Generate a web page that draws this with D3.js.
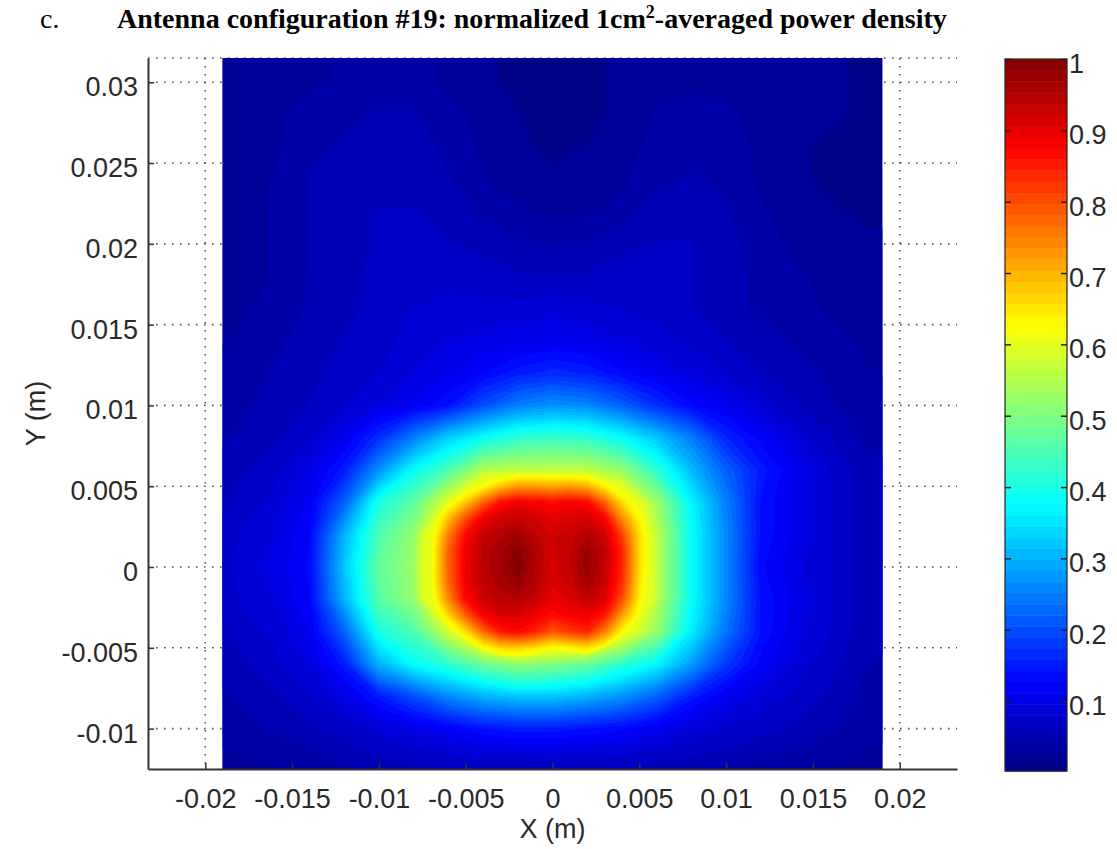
<!DOCTYPE html>
<html>
<head>
<meta charset="utf-8">
<script src="https://cdn.jsdelivr.net/npm/d3@7"></script>
<style>
  body { margin: 0; background: #fff; }
  .tick text, .lbl { font-family: "Liberation Sans", Arial, sans-serif; fill: #2a2a2a; }
</style>
</head>
<body>
<div id="chart"></div>
<script>
// grid positions of the sampled field (m)
const xValues = [-0.020, -0.018, -0.016, -0.014, -0.012, -0.010, -0.008, -0.006, -0.004, -0.002, 0,
                 0.002, 0.004, 0.006, 0.008, 0.010, 0.012, 0.014, 0.016, 0.018, 0.020];
const yValues = [0.032, 0.030, 0.028, 0.026, 0.024, 0.022, 0.020, 0.018, 0.016, 0.014, 0.012, 0.010,
                 0.008, 0.006, 0.004, 0.002, 0, -0.002, -0.004, -0.006, -0.008, -0.010, -0.012, -0.014];

// normalized power density, one row per yValue (top to bottom), one column per xValue
const density = [
  [0.02,0.02,0.025,0.03,0.035,0.04,0.04,0.03,0.02,0.015,0.012,0.015,0.02,0.025,0.03,0.03,0.025,0.02,0.02,0.015,0.015],
  [0.02,0.02,0.025,0.03,0.035,0.04,0.04,0.03,0.02,0.015,0.012,0.015,0.02,0.025,0.03,0.03,0.025,0.02,0.02,0.015,0.015],
  [0.02,0.02,0.03,0.04,0.045,0.05,0.05,0.04,0.025,0.018,0.015,0.015,0.02,0.035,0.04,0.035,0.03,0.02,0.02,0.015,0.015],
  [0.02,0.02,0.03,0.045,0.05,0.055,0.055,0.045,0.03,0.02,0.015,0.018,0.025,0.04,0.045,0.04,0.03,0.02,0.015,0.015,0.015],
  [0.02,0.02,0.035,0.05,0.055,0.06,0.06,0.05,0.035,0.025,0.02,0.022,0.03,0.045,0.05,0.045,0.03,0.02,0.015,0.015,0.015],
  [0.02,0.025,0.035,0.05,0.06,0.065,0.065,0.06,0.045,0.035,0.03,0.03,0.04,0.055,0.06,0.05,0.035,0.025,0.02,0.015,0.015],
  [0.02,0.025,0.035,0.05,0.06,0.065,0.07,0.065,0.06,0.05,0.045,0.05,0.06,0.065,0.065,0.055,0.04,0.03,0.025,0.02,0.02],
  [0.02,0.025,0.035,0.05,0.06,0.07,0.075,0.075,0.07,0.065,0.065,0.065,0.07,0.07,0.065,0.055,0.045,0.035,0.03,0.02,0.02],
  [0.025,0.03,0.04,0.05,0.06,0.07,0.08,0.085,0.085,0.085,0.09,0.085,0.08,0.075,0.065,0.055,0.045,0.04,0.03,0.025,0.02],
  [0.03,0.035,0.045,0.055,0.065,0.075,0.085,0.095,0.1,0.105,0.11,0.105,0.095,0.085,0.075,0.065,0.055,0.045,0.04,0.03,0.025],
  [0.035,0.04,0.05,0.06,0.07,0.08,0.095,0.11,0.125,0.15,0.165,0.155,0.13,0.11,0.095,0.08,0.065,0.055,0.045,0.035,0.03],
  [0.04,0.045,0.055,0.065,0.08,0.095,0.115,0.14,0.2,0.25,0.27,0.26,0.22,0.17,0.13,0.11,0.085,0.065,0.05,0.04,0.035],
  [0.045,0.05,0.06,0.08,0.11,0.17,0.25,0.33,0.38,0.42,0.43,0.42,0.38,0.32,0.25,0.16,0.12,0.09,0.065,0.045,0.04],
  [0.05,0.06,0.075,0.1,0.15,0.27,0.38,0.45,0.55,0.56,0.56,0.56,0.52,0.42,0.31,0.22,0.15,0.11,0.08,0.055,0.05],
  [0.055,0.07,0.085,0.115,0.22,0.4,0.47,0.6,0.78,0.86,0.84,0.86,0.68,0.53,0.37,0.25,0.14,0.105,0.08,0.055,0.05],
  [0.06,0.08,0.095,0.125,0.3,0.45,0.52,0.76,0.9,0.95,0.91,0.93,0.82,0.56,0.38,0.26,0.14,0.105,0.08,0.055,0.05],
  [0.065,0.085,0.1,0.13,0.32,0.47,0.53,0.78,0.92,0.98,0.92,0.95,0.84,0.56,0.38,0.26,0.13,0.1,0.08,0.055,0.05],
  [0.06,0.08,0.095,0.125,0.3,0.46,0.52,0.76,0.9,0.95,0.9,0.92,0.81,0.56,0.38,0.26,0.14,0.105,0.08,0.055,0.05],
  [0.055,0.07,0.085,0.11,0.22,0.4,0.45,0.58,0.74,0.8,0.76,0.76,0.64,0.52,0.36,0.24,0.14,0.1,0.08,0.055,0.05],
  [0.05,0.06,0.075,0.095,0.15,0.3,0.38,0.42,0.48,0.52,0.5,0.48,0.42,0.37,0.28,0.18,0.12,0.09,0.07,0.05,0.045],
  [0.045,0.05,0.06,0.075,0.1,0.15,0.2,0.26,0.3,0.32,0.32,0.3,0.27,0.22,0.15,0.11,0.09,0.075,0.06,0.045,0.04],
  [0.04,0.045,0.05,0.06,0.07,0.085,0.1,0.12,0.14,0.15,0.15,0.14,0.13,0.11,0.09,0.08,0.07,0.06,0.05,0.04,0.035],
  [0.025,0.03,0.035,0.04,0.05,0.06,0.065,0.07,0.075,0.075,0.075,0.075,0.07,0.065,0.06,0.05,0.045,0.04,0.035,0.03,0.025],
  [0.015,0.02,0.025,0.03,0.035,0.04,0.045,0.05,0.05,0.05,0.05,0.05,0.05,0.045,0.04,0.035,0.03,0.025,0.02,0.02,0.015]
];

// finer sampling of the hot spot (1 mm steps)
const coreX = [-0.008, -0.007, -0.006, -0.005, -0.004, -0.003, -0.002, -0.001, 0,
               0.001, 0.002, 0.003, 0.004, 0.005, 0.006, 0.007];
const coreY = [0.006, 0.005, 0.004, 0.003, 0.002, 0.001, 0, -0.001, -0.002, -0.003, -0.004, -0.005, -0.006];
const coreDensity = [
  [0.35,0.41,0.46,0.50,0.53,0.55,0.56,0.56,0.56,0.56,0.55,0.53,0.50,0.46,0.42,0.37],
  [0.41,0.47,0.53,0.57,0.62,0.68,0.72,0.72,0.71,0.72,0.70,0.64,0.58,0.53,0.47,0.41],
  [0.45,0.52,0.60,0.68,0.78,0.86,0.89,0.88,0.87,0.88,0.87,0.78,0.66,0.59,0.51,0.44],
  [0.49,0.57,0.69,0.80,0.89,0.92,0.93,0.92,0.90,0.91,0.92,0.88,0.74,0.63,0.53,0.45],
  [0.51,0.59,0.75,0.87,0.93,0.95,0.97,0.94,0.92,0.93,0.95,0.92,0.81,0.66,0.55,0.46],
  [0.52,0.60,0.78,0.89,0.94,0.965,0.99,0.955,0.92,0.935,0.975,0.935,0.84,0.66,0.55,0.47],
  [0.52,0.60,0.78,0.89,0.945,0.97,1.00,0.95,0.915,0.935,0.98,0.935,0.84,0.66,0.55,0.47],
  [0.52,0.60,0.77,0.89,0.935,0.96,0.98,0.945,0.91,0.925,0.965,0.925,0.83,0.65,0.54,0.46],
  [0.51,0.59,0.74,0.87,0.92,0.945,0.95,0.93,0.895,0.91,0.93,0.91,0.80,0.64,0.54,0.45],
  [0.49,0.56,0.66,0.78,0.88,0.91,0.91,0.89,0.865,0.88,0.89,0.85,0.72,0.61,0.52,0.44],
  [0.46,0.52,0.58,0.66,0.77,0.85,0.87,0.84,0.79,0.82,0.84,0.75,0.63,0.56,0.49,0.42],
  [0.43,0.48,0.53,0.57,0.62,0.66,0.67,0.65,0.62,0.63,0.65,0.61,0.55,0.50,0.45,0.39],
  [0.40,0.44,0.47,0.50,0.53,0.55,0.56,0.55,0.53,0.54,0.55,0.53,0.50,0.46,0.42,0.37]
];

const xTicks = [-0.02, -0.015, -0.01, -0.005, 0, 0.005, 0.01, 0.015, 0.02];
const yTicks = [-0.01, -0.005, 0, 0.005, 0.01, 0.015, 0.02, 0.025, 0.03];
const cbTicks = [0.1, 0.2, 0.3, 0.4, 0.5, 0.6, 0.7, 0.8, 0.9, 1];

const xDomain = [-0.0233, 0.0233];
const yDomain = [-0.0125, 0.0315];
const imageX = [-0.019, 0.019];
const cRange = [0.002, 1];
const nColors = 64;
const coreFrom = 0.6;   // levels at and above this come from the fine grid

var width = 1117, height = 849;
var plot = {left: 148, right: 957, top: 58, bottom: 769};
var cbar = {left: 1005, right: 1067, top: 59, bottom: 771};
var fontSize = 27;

var svg = d3.select("#chart")
  .append("svg")
    .attr("width", width)
    .attr("height", height);

var x = d3.scaleLinear().domain(xDomain).range([plot.left, plot.right]);
var y = d3.scaleLinear().domain(yDomain).range([plot.bottom, plot.top]);

// MATLAB jet colormap
var jet = d3.scaleLinear()
  .domain([0, 0.125, 0.375, 0.625, 0.875, 1])
  .range(["#000080", "#0000ff", "#00ffff", "#ffff00", "#ff0000", "#800000"])
  .clamp(true);
var step = (cRange[1] - cRange[0]) / nColors;
var thresholds = d3.range(nColors).map(i => cRange[0] + i * step);
function bandColor(v) {
  var i = Math.min(nColors - 1, Math.max(0, Math.round((v - cRange[0]) / step)));
  return jet((i + 0.5) / nColors);
}

// dotted grid (only visible outside the image)
var grid = svg.append("g")
  .attr("stroke", "#555")
  .attr("stroke-width", 1.6)
  .attr("stroke-dasharray", "1.6,6.4");
grid.selectAll(".gx").data(xTicks).join("line")
  .attr("x1", d => x(d)).attr("x2", d => x(d))
  .attr("y1", plot.top).attr("y2", plot.bottom);
grid.selectAll(".gy").data(yTicks.concat([yDomain[1]])).join("line")
  .attr("x1", plot.left).attr("x2", plot.right)
  .attr("y1", d => y(d)).attr("y2", d => y(d));

// heat map from filled contour bands
svg.append("clipPath").attr("id", "imgclip")
  .append("rect")
    .attr("x", x(imageX[0])).attr("y", plot.top)
    .attr("width", x(imageX[1]) - x(imageX[0]))
    .attr("height", plot.bottom - plot.top);

function gridPath(xs, ys) {
  var dx = xs[1] - xs[0], dy = ys[1] - ys[0];
  return d3.geoPath(d3.geoTransform({
    point: function(px, py) {
      this.stream.point(x(xs[0] + (px - 0.5) * dx), y(ys[0] + (py - 0.5) * dy));
    }
  }));
}

var img = svg.append("g").attr("clip-path", "url(#imgclip)");
img.append("rect")
  .attr("x", x(imageX[0])).attr("y", plot.top)
  .attr("width", x(imageX[1]) - x(imageX[0]))
  .attr("height", plot.bottom - plot.top)
  .attr("fill", bandColor(cRange[0]));

var coarseBands = d3.contours()
  .size([xValues.length, yValues.length])
  .thresholds(thresholds.filter(t => t < coreFrom))(density.flat());
var coreBands = d3.contours()
  .size([coreX.length, coreY.length])
  .thresholds(thresholds.filter(t => t >= coreFrom))(coreDensity.flat());

var coarsePath = gridPath(xValues, yValues);
var corePath = gridPath(coreX, coreY);

img.append("g").selectAll("path").data(coarseBands).join("path")
  .attr("d", coarsePath)
  .attr("fill", d => bandColor(d.value))
  .attr("stroke", d => bandColor(d.value))
  .attr("stroke-width", 0.6);
img.append("g").selectAll("path").data(coreBands).join("path")
  .attr("d", corePath)
  .attr("fill", d => bandColor(d.value))
  .attr("stroke", d => bandColor(d.value))
  .attr("stroke-width", 0.6);

// axes
var xAxis = svg.append("g")
  .attr("transform", "translate(0," + plot.bottom + ")")
  .call(d3.axisBottom(x).tickValues(xTicks).tickSize(-6).tickSizeOuter(0).tickPadding(20).tickFormat(d => String(d)));
var yAxis = svg.append("g")
  .attr("transform", "translate(" + plot.left + ",0)")
  .call(d3.axisLeft(y).tickValues(yTicks).tickSize(-6).tickSizeOuter(0).tickPadding(10).tickFormat(d => String(d)));
[xAxis, yAxis].forEach(g => {
  g.select(".domain").attr("stroke", "#333").attr("stroke-width", 2);
  g.selectAll(".tick line").attr("stroke", "#333").attr("stroke-width", 1.5);
  g.selectAll(".tick text").attr("font-size", fontSize);
});
yAxis.selectAll(".tick text").attr("dy", "0.5em");

svg.append("text").attr("class", "lbl")
  .attr("x", (plot.left + plot.right) / 2)
  .attr("y", 838)
  .attr("text-anchor", "middle")
  .attr("font-size", fontSize)
  .text("X (m)");
svg.append("text").attr("class", "lbl")
  .attr("transform", "translate(45," + ((plot.top + plot.bottom) / 2) + ") rotate(-90)")
  .attr("text-anchor", "middle")
  .attr("font-size", fontSize)
  .text("Y (m)");

// colorbar
var cb = d3.scaleLinear().domain(cRange).range([cbar.bottom, cbar.top]);
svg.append("g").selectAll("rect").data(thresholds).join("rect")
  .attr("x", cbar.left)
  .attr("width", cbar.right - cbar.left)
  .attr("y", d => cb(d + step))
  .attr("height", d => cb(d) - cb(d + step) + 0.5)
  .attr("fill", d => bandColor(d));
svg.append("rect")
  .attr("x", cbar.left).attr("y", cbar.top)
  .attr("width", cbar.right - cbar.left).attr("height", cbar.bottom - cbar.top)
  .attr("fill", "none").attr("stroke", "#222").attr("stroke-width", 1.2);
var cbRight = svg.append("g")
  .attr("transform", "translate(" + cbar.right + ",0)")
  .call(d3.axisRight(cb).tickValues(cbTicks).tickSize(-6).tickSizeOuter(0).tickPadding(2).tickFormat(d => String(d)));
var cbLeft = svg.append("g")
  .attr("transform", "translate(" + cbar.left + ",0)")
  .call(d3.axisLeft(cb).tickValues(cbTicks).tickSize(-6).tickSizeOuter(0).tickFormat(""));
[cbRight, cbLeft].forEach(g => {
  g.select(".domain").remove();
  g.selectAll(".tick line").attr("stroke", "#222").attr("stroke-width", 1.5);
});
cbRight.selectAll(".tick text").attr("font-size", fontSize).attr("dy", "0.5em");

// title
var title = svg.append("text")
  .attr("y", 28)
  .attr("font-family", "'Liberation Serif', 'Times New Roman', serif")
  .attr("font-size", 28)
  .attr("fill", "#000");
title.append("tspan").attr("x", 40).text("c.");
title.append("tspan").attr("x", 117).attr("font-weight", "bold").text("Antenna configuration #19: normalized 1cm");
title.append("tspan").attr("font-weight", "bold").attr("font-size", 18).attr("dy", -10).text("2");
title.append("tspan").attr("font-weight", "bold").attr("dy", 10).text("-averaged power density");
</script>
</body>
</html>
